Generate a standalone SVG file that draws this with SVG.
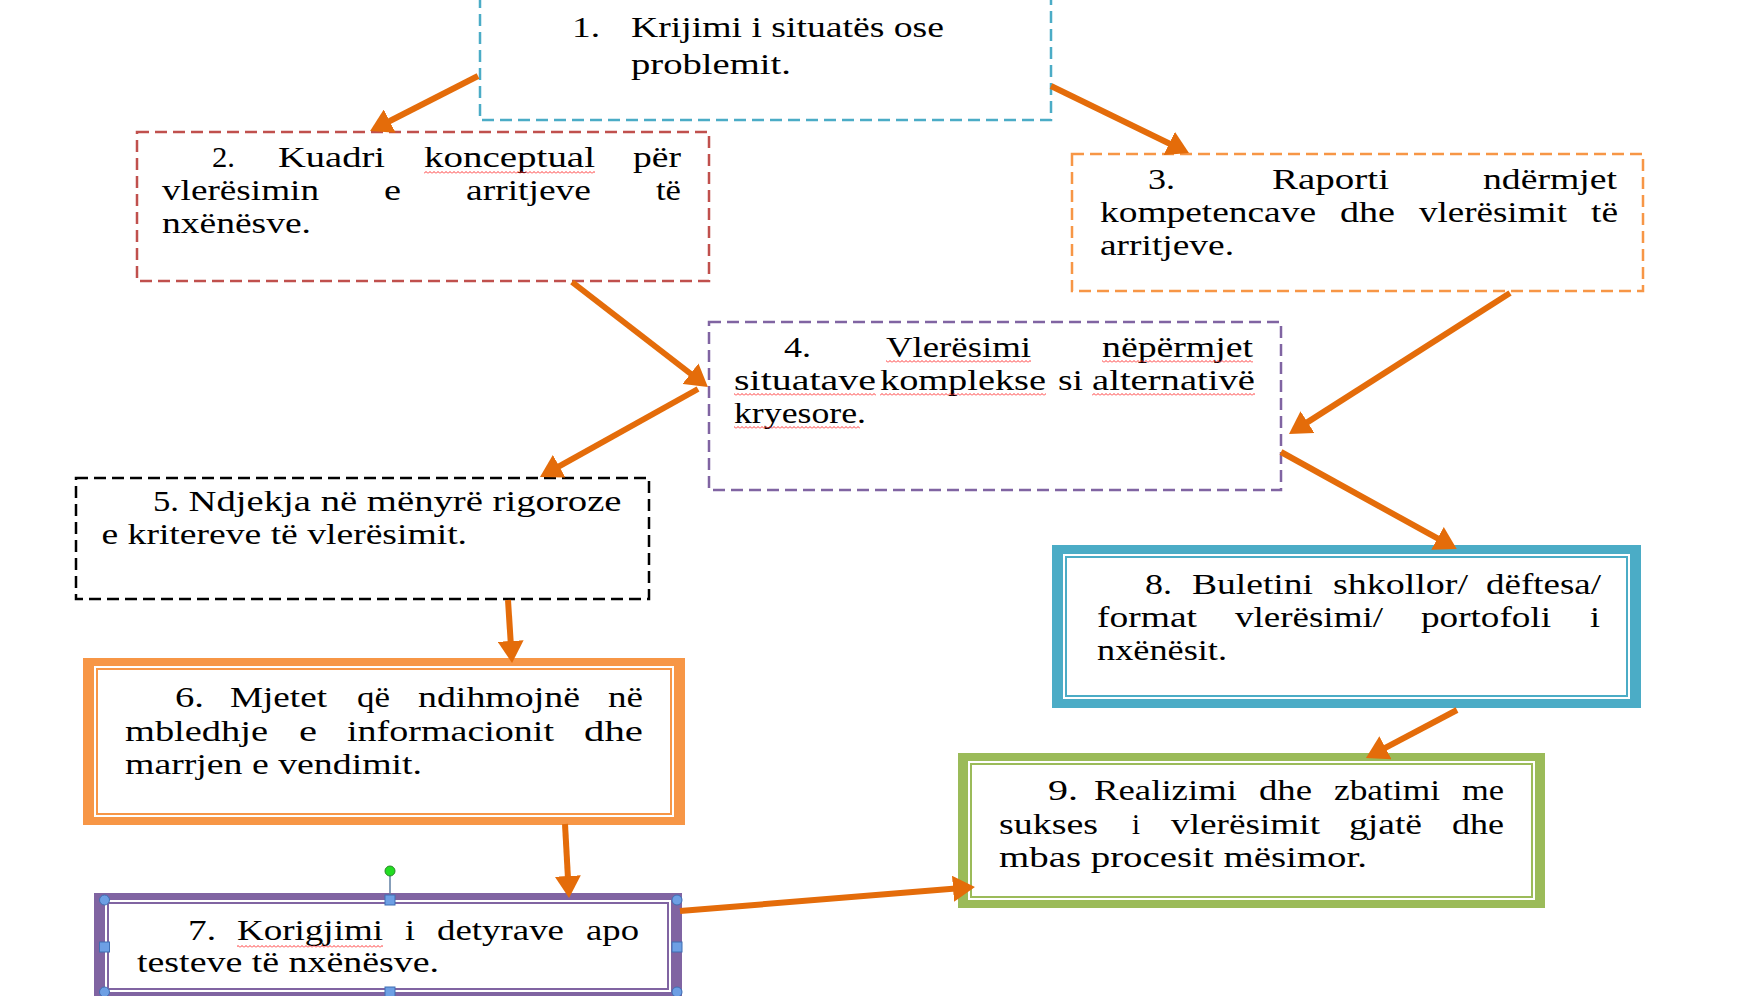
<svg xmlns="http://www.w3.org/2000/svg" width="1742" height="996" viewBox="0 0 1742 996">
<style>
.t{font-family:"Liberation Serif","Times New Roman",serif;font-size:29px;fill:#000}
.dash{fill:#fff;stroke-width:2.5;stroke-dasharray:12 6}
.conn{stroke:#e46c0a;stroke-width:6;fill:none;marker-end:url(#ah)}
.thin{fill:#fff;stroke-width:2}
.hc{fill:#6d9fe4;stroke:#3f6fb3;stroke-width:1}
.sq{fill:url(#wavy)}
</style>
<defs>
<marker id="ah" viewBox="0 0 22 26" refX="12" refY="13" markerWidth="22" markerHeight="26" markerUnits="userSpaceOnUse" orient="auto">
<path d="M0,0 L22,13 L0,26 Z" fill="#e46c0a"/>
</marker>
<pattern id="wavy" width="4" height="3" patternUnits="userSpaceOnUse">
<path d="M0,2.5 L2,0.5 L4,2.5" fill="none" stroke="#ff2020" stroke-width="0.9"/>
</pattern>
</defs>
<rect width="1742" height="996" fill="#fff"/>

<g id="node1">
<rect class="dash" x="480" y="-30" width="571" height="150" stroke="#4bacc6"/>
<text class="t" y="37"><tspan x="572" textLength="28" lengthAdjust="spacingAndGlyphs">1.</tspan> <tspan x="631" textLength="313" lengthAdjust="spacingAndGlyphs">Krijimi i situatës ose</tspan></text>
<text class="t" x="631" y="74" textLength="160" lengthAdjust="spacingAndGlyphs">problemit.</text>
</g>

<g id="node2">
<rect class="dash" x="137" y="132" width="572" height="149" stroke="#c0504d"/>
<text class="t" y="167"><tspan x="212" textLength="23" lengthAdjust="spacingAndGlyphs">2.</tspan> <tspan x="278" textLength="107" lengthAdjust="spacingAndGlyphs">Kuadri</tspan> <tspan x="424" textLength="171" lengthAdjust="spacingAndGlyphs">konceptual</tspan> <tspan x="633" textLength="48" lengthAdjust="spacingAndGlyphs">për</tspan></text>
<text class="t" y="200"><tspan x="162" textLength="157" lengthAdjust="spacingAndGlyphs">vlerësimin</tspan> <tspan x="384" textLength="17" lengthAdjust="spacingAndGlyphs">e</tspan> <tspan x="466" textLength="125" lengthAdjust="spacingAndGlyphs">arritjeve</tspan> <tspan x="656" textLength="25" lengthAdjust="spacingAndGlyphs">të</tspan></text>
<text class="t" x="162" y="233" textLength="149" lengthAdjust="spacingAndGlyphs">nxënësve.</text>
<rect class="sq" x="424" y="171" width="171" height="3"/>
</g>

<g id="node3">
<rect class="dash" x="1072" y="154" width="571" height="137" stroke="#f79646"/>
<text class="t" y="189"><tspan x="1148" textLength="27" lengthAdjust="spacingAndGlyphs">3.</tspan> <tspan x="1272" textLength="117" lengthAdjust="spacingAndGlyphs">Raporti</tspan> <tspan x="1483" textLength="134" lengthAdjust="spacingAndGlyphs">ndërmjet</tspan></text>
<text class="t" y="222"><tspan x="1100" textLength="216" lengthAdjust="spacingAndGlyphs">kompetencave</tspan> <tspan x="1340" textLength="55" lengthAdjust="spacingAndGlyphs">dhe</tspan> <tspan x="1419" textLength="148" lengthAdjust="spacingAndGlyphs">vlerësimit</tspan> <tspan x="1591" textLength="27" lengthAdjust="spacingAndGlyphs">të</tspan></text>
<text class="t" x="1100" y="255" textLength="134" lengthAdjust="spacingAndGlyphs">arritjeve.</text>
</g>

<g id="node4">
<rect class="dash" x="709" y="322" width="572" height="168" stroke="#8064a2"/>
<text class="t" y="357"><tspan x="784" textLength="27" lengthAdjust="spacingAndGlyphs">4.</tspan> <tspan x="886" textLength="145" lengthAdjust="spacingAndGlyphs">Vlerësimi</tspan> <tspan x="1102" textLength="151" lengthAdjust="spacingAndGlyphs">nëpërmjet</tspan></text>
<text class="t" y="390"><tspan x="734" textLength="142" lengthAdjust="spacingAndGlyphs">situatave</tspan> <tspan x="880" textLength="166" lengthAdjust="spacingAndGlyphs">komplekse</tspan> <tspan x="1058" textLength="25" lengthAdjust="spacingAndGlyphs">si</tspan> <tspan x="1092" textLength="163" lengthAdjust="spacingAndGlyphs">alternativë</tspan></text>
<text class="t" x="734" y="423" textLength="132" lengthAdjust="spacingAndGlyphs">kryesore.</text>
<rect class="sq" x="886" y="360" width="145" height="3"/>
<rect class="sq" x="1102" y="360" width="151" height="3"/>
<rect class="sq" x="734" y="393" width="142" height="3"/>
<rect class="sq" x="880" y="393" width="166" height="3"/>
<rect class="sq" x="1092" y="393" width="163" height="3"/>
<rect class="sq" x="734" y="426" width="126" height="3"/>
</g>

<g id="node5">
<rect class="dash" x="76" y="478" width="573" height="121" stroke="#000"/>
<text class="t" y="511"><tspan x="153" textLength="26" lengthAdjust="spacingAndGlyphs">5.</tspan> <tspan x="188.5" textLength="433" lengthAdjust="spacingAndGlyphs">Ndjekja në mënyrë rigoroze</tspan></text>
<text class="t" x="101.5" y="544" textLength="365.5" lengthAdjust="spacingAndGlyphs">e kritereve të vlerësimit.</text>
</g>

<g id="node6">
<rect x="83" y="658" width="602" height="167" fill="#f79646"/>
<rect x="94" y="666" width="580" height="151" fill="#fff"/>
<rect class="thin" x="97" y="669" width="574" height="145" stroke="#f79646"/>
<text class="t" y="707"><tspan x="175" textLength="29" lengthAdjust="spacingAndGlyphs">6.</tspan> <tspan x="230" textLength="97" lengthAdjust="spacingAndGlyphs">Mjetet</tspan> <tspan x="357" textLength="33" lengthAdjust="spacingAndGlyphs">që</tspan> <tspan x="418" textLength="162" lengthAdjust="spacingAndGlyphs">ndihmojnë</tspan> <tspan x="608" textLength="35" lengthAdjust="spacingAndGlyphs">në</tspan></text>
<text class="t" y="741"><tspan x="125" textLength="143" lengthAdjust="spacingAndGlyphs">mbledhje</tspan> <tspan x="299" textLength="18" lengthAdjust="spacingAndGlyphs">e</tspan> <tspan x="347" textLength="207" lengthAdjust="spacingAndGlyphs">informacionit</tspan> <tspan x="584" textLength="59" lengthAdjust="spacingAndGlyphs">dhe</tspan></text>
<text class="t" x="125" y="774" textLength="297" lengthAdjust="spacingAndGlyphs">marrjen e vendimit.</text>
</g>

<g id="node8">
<rect x="1052" y="545" width="589" height="163" fill="#4bacc6"/>
<rect x="1063" y="554" width="567" height="145" fill="#fff"/>
<rect class="thin" x="1066" y="557" width="561" height="139" stroke="#4bacc6"/>
<text class="t" y="594"><tspan x="1145" textLength="27" lengthAdjust="spacingAndGlyphs">8.</tspan> <tspan x="1192" textLength="121" lengthAdjust="spacingAndGlyphs">Buletini</tspan> <tspan x="1333" textLength="135" lengthAdjust="spacingAndGlyphs">shkollor/</tspan> <tspan x="1486" textLength="115" lengthAdjust="spacingAndGlyphs">dëftesa/</tspan></text>
<text class="t" y="627"><tspan x="1097" textLength="100" lengthAdjust="spacingAndGlyphs">format</tspan> <tspan x="1235" textLength="148" lengthAdjust="spacingAndGlyphs">vlerësimi/</tspan> <tspan x="1421" textLength="130" lengthAdjust="spacingAndGlyphs">portofoli</tspan> <tspan x="1590" textLength="10" lengthAdjust="spacingAndGlyphs">i</tspan></text>
<text class="t" x="1097" y="660" textLength="130" lengthAdjust="spacingAndGlyphs">nxënësit.</text>
</g>

<g id="node9">
<rect x="958" y="753" width="587" height="155" fill="#9bbb59"/>
<rect x="968" y="761" width="567" height="139" fill="#fff"/>
<rect class="thin" x="971" y="764" width="561" height="133" stroke="#9bbb59"/>
<text class="t" y="800"><tspan x="1048" textLength="30" lengthAdjust="spacingAndGlyphs">9.</tspan> <tspan x="1094" textLength="143" lengthAdjust="spacingAndGlyphs">Realizimi</tspan> <tspan x="1259" textLength="53" lengthAdjust="spacingAndGlyphs">dhe</tspan> <tspan x="1334" textLength="106" lengthAdjust="spacingAndGlyphs">zbatimi</tspan> <tspan x="1462" textLength="42" lengthAdjust="spacingAndGlyphs">me</tspan></text>
<text class="t" y="834"><tspan x="999" textLength="99" lengthAdjust="spacingAndGlyphs">sukses</tspan> <tspan x="1132" textLength="8" lengthAdjust="spacingAndGlyphs">i</tspan> <tspan x="1171" textLength="149" lengthAdjust="spacingAndGlyphs">vlerësimit</tspan> <tspan x="1349" textLength="73" lengthAdjust="spacingAndGlyphs">gjatë</tspan> <tspan x="1452" textLength="52" lengthAdjust="spacingAndGlyphs">dhe</tspan></text>
<text class="t" x="999" y="867" textLength="368" lengthAdjust="spacingAndGlyphs">mbas procesit mësimor.</text>
</g>

<g id="node7">
<rect x="94" y="893" width="588" height="106" fill="#8064a2"/>
<rect x="105" y="900" width="566" height="92" fill="#fff"/>
<rect class="thin" x="108" y="903" width="560" height="86" stroke="#8064a2"/>
<text class="t" y="940"><tspan x="188" textLength="28" lengthAdjust="spacingAndGlyphs">7.</tspan> <tspan x="237" textLength="146" lengthAdjust="spacingAndGlyphs">Korigjimi</tspan> <tspan x="405" textLength="10" lengthAdjust="spacingAndGlyphs">i</tspan> <tspan x="437" textLength="127" lengthAdjust="spacingAndGlyphs">detyrave</tspan> <tspan x="586" textLength="53" lengthAdjust="spacingAndGlyphs">apo</tspan></text>
<text class="t" x="137" y="972" textLength="302" lengthAdjust="spacingAndGlyphs">testeve të nxënësve.</text>
<rect class="sq" x="237" y="945" width="146" height="3"/>
<line x1="390" y1="871" x2="390" y2="900" stroke="#5f7fa3" stroke-width="1.5"/>
<circle cx="390" cy="871" r="5" fill="#22dd22" stroke="#2a8a2a" stroke-width="1"/>
<circle class="hc" cx="104.5" cy="900" r="5"/>
<circle class="hc" cx="677" cy="900" r="5"/>
<circle class="hc" cx="104.5" cy="992" r="5"/>
<circle class="hc" cx="677" cy="992" r="5"/>
<rect class="hc" x="385" y="895" width="10" height="10"/>
<rect class="hc" x="385" y="987" width="10" height="10"/>
<rect class="hc" x="99.5" y="942" width="10" height="10"/>
<rect class="hc" x="672" y="942" width="10" height="10"/>
</g>

<g id="connectors">
<line class="conn" x1="478" y1="76" x2="379" y2="126.5"/>
<line class="conn" x1="1051" y1="86" x2="1180" y2="148.7"/>
<line class="conn" x1="572" y1="282" x2="700" y2="381"/>
<line class="conn" x1="698" y1="389" x2="548.7" y2="472.1"/>
<line class="conn" x1="1510" y1="293" x2="1297.4" y2="428.6"/>
<line class="conn" x1="1281" y1="452" x2="1448" y2="544.2"/>
<line class="conn" x1="508" y1="600" x2="511.4" y2="653"/>
<line class="conn" x1="565" y1="824" x2="568.5" y2="888"/>
<line class="conn" x1="1457" y1="710" x2="1374.8" y2="753.3"/>
<line class="conn" x1="680" y1="911" x2="965" y2="887.8"/>
</g>
</svg>
